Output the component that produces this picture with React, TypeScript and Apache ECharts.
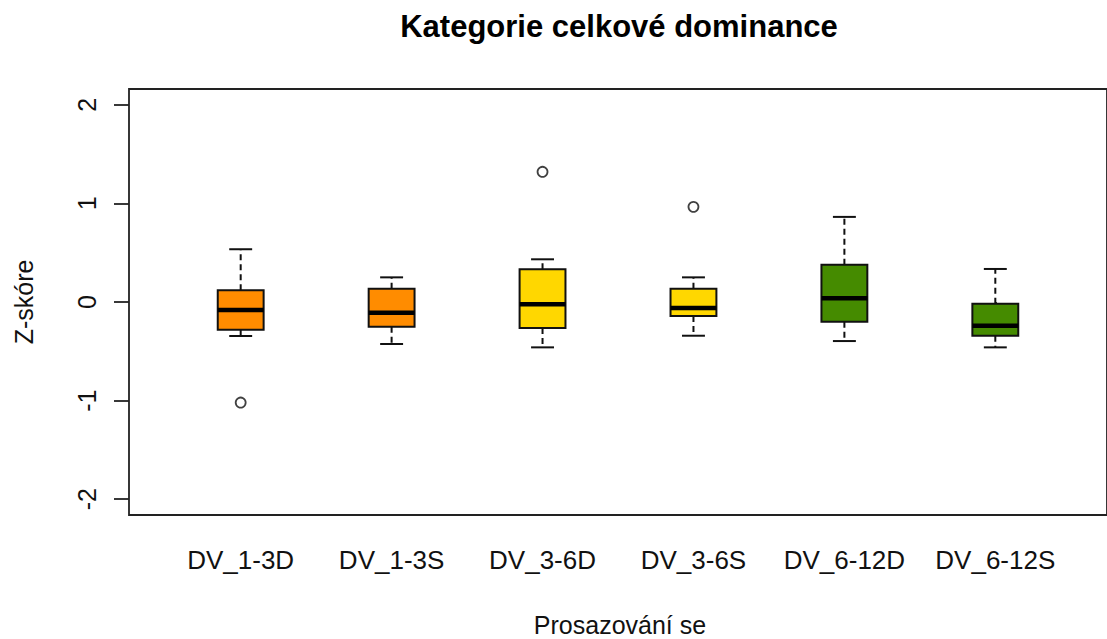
import React, { useEffect, useRef } from "react";
import * as echarts from "echarts";

const categories = ["DV_1-3D", "DV_1-3S", "DV_3-6D", "DV_3-6S", "DV_6-12D", "DV_6-12S"];
const whiskerLow = [-0.345, -0.426, -0.46, -0.342, -0.396, -0.46];
const quartile1 = [-0.281, -0.25, -0.264, -0.142, -0.2, -0.342];
const medians = [-0.081, -0.108, -0.024, -0.061, 0.037, -0.24];
const quartile3 = [0.119, 0.135, 0.332, 0.135, 0.379, -0.017];
const whiskerHigh = [0.535, 0.25, 0.433, 0.25, 0.863, 0.335];
const outlierGroup = [1, 3, 4];
const outlierValue = [-1.02, 1.32, 0.965];
const yTicks = [-2, -1, 0, 1, 2];
const boxColors = ["#FF8C00", "#FF8C00", "#FFD700", "#FFD700", "#458B00", "#458B00"];

const FONT = "'Liberation Sans', Arial, sans-serif";
const BOX_W = 0.304;

export default function App() {
  const ref = useRef<HTMLDivElement>(null);
  useEffect(() => {
    if (!ref.current) return;
    const chart = echarts.init(ref.current, undefined, { renderer: "svg" });
    const boxData = categories.map((_, i) => [
      i + 1,
      whiskerLow[i],
      quartile1[i],
      medians[i],
      quartile3[i],
      whiskerHigh[i],
    ]);
    const outData = outlierGroup.map((g, i) => [g, outlierValue[i]]);
    const xTicks = categories.map((_, i) => i + 1);

    const option: any = {
      animation: false,
      backgroundColor: "#ffffff",
      grid: {
        left: 129,
        top: 89,
        right: -3,
        bottom: 124,
        show: true,
        borderColor: "#222",
        borderWidth: 1.8,
        backgroundColor: "transparent",
      },
      xAxis: {
        type: "value",
        min: 0.26,
        max: 6.74,
        splitLine: { show: false },
        axisLine: { show: false },
        axisTick: {
          show: true,
          customValues: xTicks,
          length: 15,
          lineStyle: { color: "#222", width: 1.8 },
        },
        axisLabel: {
          show: true,
          customValues: xTicks,
          formatter: (v: number) => categories[Math.round(v) - 1] ?? "",
          fontSize: 26,
          fontFamily: FONT,
          color: "#111",
          margin: 32,
        },
      },
      yAxis: {
        type: "value",
        min: -2.16,
        max: 2.16,
        splitLine: { show: false },
        axisLine: { show: false },
        axisTick: {
          show: true,
          customValues: yTicks,
          length: 15,
          lineStyle: { color: "#222", width: 1.8 },
        },
        axisLabel: {
          show: true,
          customValues: yTicks,
          rotate: 90,
          fontSize: 25,
          fontFamily: FONT,
          color: "#111",
          margin: 30,
        },
      },
      graphic: [
        {
          type: "text",
          x: 619,
          y: 26,
          style: {
            text: "Kategorie celkové dominance",
            fontSize: 31,
            fontWeight: "bold",
            fontFamily: FONT,
            fill: "#000",
            align: "center",
            verticalAlign: "middle",
            textAlign: "center",
            textVerticalAlign: "middle",
          },
        },
        {
          type: "text",
          x: 620,
          y: 625,
          style: {
            text: "Prosazování se",
            fontSize: 25,
            fontFamily: FONT,
            fill: "#111",
            align: "center",
            verticalAlign: "middle",
            textAlign: "center",
            textVerticalAlign: "middle",
          },
        },
        {
          type: "text",
          x: 24,
          y: 302,
          rotation: Math.PI / 2,
          style: {
            text: "Z-skóre",
            fontSize: 25,
            fontFamily: FONT,
            fill: "#111",
            align: "center",
            verticalAlign: "middle",
            textAlign: "center",
            textVerticalAlign: "middle",
          },
        },
      ],
      series: [
        {
          type: "custom",
          data: boxData,
          encode: { x: 0, y: [1, 2, 3, 4, 5] },
          renderItem: (params: any, api: any) => {
            const x = api.value(0);
            const pLo = api.coord([x, api.value(1)]);
            const pQ1 = api.coord([x, api.value(2)]);
            const pMed = api.coord([x, api.value(3)]);
            const pQ3 = api.coord([x, api.value(4)]);
            const pHi = api.coord([x, api.value(5)]);
            const cx = pMed[0];
            const halfW = api.size([BOX_W, 0])[0] / 2;
            const capHalf = halfW / 2;
            const dashStyle = { stroke: "#111", lineWidth: 2, lineDash: [6, 4] };
            const solid = { stroke: "#111", lineWidth: 2 };
            return {
              type: "group",
              children: [
                { type: "line", shape: { x1: cx, y1: pQ3[1], x2: cx, y2: pHi[1] }, style: dashStyle },
                { type: "line", shape: { x1: cx, y1: pQ1[1], x2: cx, y2: pLo[1] }, style: dashStyle },
                { type: "line", shape: { x1: cx - capHalf, y1: pHi[1], x2: cx + capHalf, y2: pHi[1] }, style: solid },
                { type: "line", shape: { x1: cx - capHalf, y1: pLo[1], x2: cx + capHalf, y2: pLo[1] }, style: solid },
                {
                  type: "rect",
                  shape: { x: cx - halfW, y: pQ3[1], width: halfW * 2, height: pQ1[1] - pQ3[1] },
                  style: { fill: boxColors[params.dataIndex], stroke: "#111", lineWidth: 2 },
                },
                {
                  type: "line",
                  shape: { x1: cx - halfW, y1: pMed[1], x2: cx + halfW, y2: pMed[1] },
                  style: { stroke: "#000", lineWidth: 4.5 },
                },
              ],
            };
          },
        },
        {
          type: "scatter",
          data: outData,
          symbol: "circle",
          symbolSize: 10,
          itemStyle: { color: "#ffffff", borderColor: "#111", borderWidth: 1.8 },
        },
      ],
    };
    chart.setOption(option);
    return () => chart.dispose();
  }, []);
  return (
    <div
      ref={ref}
      style={{ position: "fixed", left: 0, top: 0, width: 1107, height: 639 }}
    />
  );
}
